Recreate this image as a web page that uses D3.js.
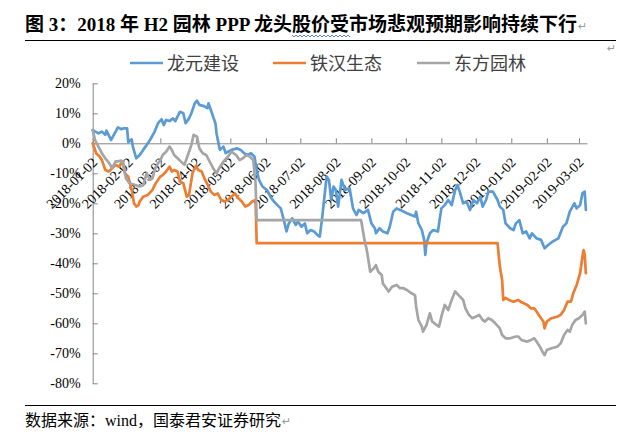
<!DOCTYPE html>
<html><head><meta charset="utf-8">
<script src="https://cdn.jsdelivr.net/npm/d3@7"></script>
<style>body{margin:0;background:#fff;overflow:hidden}</style>
</head><body><svg id="c" width="642" height="436"></svg>
<script>
const titleText = "图 3：2018 年 H2 园林 PPP 龙头股价受市场悲观预期影响持续下行";
const sourceText = "数据来源：wind，国泰君安证券研究";
const seriesNames = ["龙元建设", "铁汉生态", "东方园林"];
const seriesColors = ["#5B9BD5", "#ED7D31", "#A5A5A5"];
const yTickValues = [20, 10, 0, -10, -20, -30, -40, -50, -60, -70, -80];
const xTickLabels = ["2018-01-02","2018-02-02","2018-03-02","2018-04-02","2018-05-02","2018-06-02","2018-07-02","2018-08-02","2018-09-02","2018-10-02","2018-11-02","2018-12-02","2019-01-02","2019-02-02","2019-03-02"];
const xDomain = ["2018-01-02", "2019-03-09"];

const lyDates = ["2018-01-02","2018-01-07","2018-01-10","2018-01-13","2018-01-14","2018-01-18","2018-01-22","2018-01-24","2018-01-27","2018-01-29","2018-02-01","2018-02-02","2018-02-05","2018-02-06","2018-02-09","2018-02-12","2018-02-15","2018-02-18","2018-02-21","2018-02-25","2018-02-28","2018-03-03","2018-03-05","2018-03-07","2018-03-10","2018-03-13","2018-03-15","2018-03-19","2018-03-22","2018-03-24","2018-03-27","2018-03-29","2018-04-01","2018-04-03","2018-04-05","2018-04-09","2018-04-12","2018-04-13","2018-04-15","2018-04-17","2018-04-19","2018-04-20","2018-04-22","2018-04-23","2018-04-26","2018-04-28","2018-04-30","2018-05-03","2018-05-08","2018-05-11","2018-05-14","2018-05-17","2018-05-20","2018-05-23","2018-05-25","2018-05-27","2018-05-30","2018-06-03","2018-06-06","2018-06-09","2018-06-12","2018-06-15","2018-06-18","2018-06-20","2018-06-22","2018-06-25","2018-06-28","2018-06-30","2018-07-03","2018-07-06","2018-07-08","2018-07-11","2018-07-14","2018-07-17","2018-07-19","2018-07-21","2018-07-23","2018-07-25","2018-07-27","2018-07-29","2018-07-31","2018-08-02","2018-08-04","2018-08-07","2018-08-10","2018-08-14","2018-08-17","2018-08-20","2018-08-22","2018-08-26","2018-08-30","2018-09-02","2018-09-05","2018-09-06","2018-09-09","2018-09-12","2018-09-16","2018-09-18","2018-09-21","2018-09-24","2018-09-27","2018-10-03","2018-10-10","2018-10-11","2018-10-13","2018-10-16","2018-10-18","2018-10-19","2018-10-20","2018-10-23","2018-10-26","2018-10-30","2018-11-02","2018-11-05","2018-11-08","2018-11-11","2018-11-14","2018-11-16","2018-11-18","2018-11-21","2018-11-24","2018-11-27","2018-11-30","2018-12-03","2018-12-06","2018-12-08","2018-12-11","2018-12-13","2018-12-17","2018-12-21","2018-12-23","2018-12-26","2018-12-28","2019-01-01","2019-01-04","2019-01-06","2019-01-09","2019-01-12","2019-01-15","2019-01-18","2019-01-20","2019-01-24","2019-01-28","2019-01-31","2019-02-03","2019-02-07","2019-02-12","2019-02-16","2019-02-19","2019-02-22","2019-02-26","2019-02-28","2019-03-03","2019-03-05","2019-03-07","2019-03-08"];
const lyValues = [4.4,3.3,3.9,2.8,4.2,1.1,3.9,5.3,4.7,5.0,5.0,0.5,1.3,-1.1,-5.0,-3.9,-2.2,-0.6,1.1,3.9,6.7,8.0,6.1,7.8,7.4,8.3,7.4,10.5,10.0,6.7,8.3,10.0,13.3,14.2,12.8,12.4,11.7,13.3,11.1,8.9,6.7,3.3,-0.6,-2.2,-1.1,-3.3,-2.8,-2.2,-1.7,-2.2,-3.3,-3.9,-3.3,-4.4,-8.9,-12.2,-14.4,-15.6,-17.8,-19.4,-20.6,-21.7,-26.1,-29.4,-26.7,-25.0,-27.2,-26.1,-27.8,-26.7,-30.0,-28.9,-29.4,-30.6,-31.1,-25.0,-18.0,-11.1,-12.2,-18.9,-14.4,-15.6,-21.1,-12.2,-15.6,-15.0,-21.7,-23.9,-22.2,-23.3,-22.2,-26.7,-28.3,-30.0,-28.3,-29.4,-30.0,-27.8,-22.8,-21.7,-22.2,-23.3,-24.4,-22.8,-26.7,-28.9,-32.2,-37.2,-33.3,-30.0,-28.9,-29.4,-21.7,-20.6,-18.9,-20.6,-15.6,-13.9,-16.1,-20.0,-19.4,-22.2,-18.9,-20.0,-17.8,-21.1,-18.9,-16.1,-16.1,-18.9,-21.1,-22.2,-26.7,-28.3,-28.9,-26.7,-25.6,-30.0,-29.4,-31.7,-30.0,-31.7,-32.2,-35.0,-33.9,-32.8,-31.7,-27.8,-26.7,-22.8,-20.0,-21.7,-20.6,-16.7,-16.1,-22.2];

const thDates = ["2018-01-02","2018-01-05","2018-01-08","2018-01-10","2018-01-11","2018-01-13","2018-01-16","2018-01-19","2018-01-22","2018-01-25","2018-01-28","2018-01-30","2018-02-02","2018-02-05","2018-02-07","2018-02-09","2018-02-11","2018-02-12","2018-02-15","2018-02-19","2018-02-23","2018-02-26","2018-03-02","2018-03-04","2018-03-07","2018-03-10","2018-03-12","2018-03-14","2018-03-17","2018-03-19","2018-03-22","2018-03-25","2018-03-27","2018-03-30","2018-04-02","2018-04-04","2018-04-07","2018-04-10","2018-04-13","2018-04-15","2018-04-18","2018-04-21","2018-04-24","2018-04-27","2018-04-30","2018-05-03","2018-05-06","2018-05-09","2018-05-12","2018-05-15","2018-05-18","2018-05-21","2018-05-24","2018-05-25","2018-12-21","2018-12-23","2018-12-25","2018-12-26","2018-12-28","2018-12-31","2019-01-04","2019-01-08","2019-01-11","2019-01-16","2019-01-19","2019-01-22","2019-01-24","2019-01-27","2019-01-30","2019-01-31","2019-02-02","2019-02-06","2019-02-11","2019-02-14","2019-02-17","2019-02-20","2019-02-23","2019-02-25","2019-02-28","2019-03-03","2019-03-05","2019-03-06","2019-03-07","2019-03-08"];
const thValues = [0,-3.3,-4.4,-5.6,-6.7,-8.9,-9.4,-8.3,-7.2,-7.8,-6.1,-10.0,-11.1,-15.6,-20.0,-21.1,-20.6,-19.4,-17.8,-17.2,-15.6,-13.3,-11.1,-10.6,-9.4,-7.8,-9.4,-8.9,-9.4,-12.8,-13.3,-17.8,-17.2,-10.0,-7.5,-8.9,-9.4,-12.2,-14.4,-16.1,-17.2,-16.7,-18.9,-19.4,-18.9,-17.8,-16.7,-18.3,-19.4,-21.1,-20.6,-19.4,-18.9,-33.3,-33.3,-41.1,-45.6,-52.2,-51.5,-52.2,-52.8,-52.2,-53.0,-53.9,-55.0,-55.0,-56.1,-57.8,-59.4,-61.7,-59.4,-58.3,-57.8,-57.2,-55.6,-52.8,-52.8,-50.0,-47.2,-43.3,-37.8,-35.6,-37.2,-43.3];

const dfDates = ["2018-01-02","2018-01-04","2018-01-07","2018-01-10","2018-01-13","2018-01-16","2018-01-19","2018-01-22","2018-01-24","2018-01-27","2018-01-29","2018-01-31","2018-02-03","2018-02-08","2018-02-12","2018-02-15","2018-02-18","2018-02-21","2018-02-23","2018-02-26","2018-03-02","2018-03-04","2018-03-07","2018-03-10","2018-03-12","2018-03-14","2018-03-17","2018-03-20","2018-03-23","2018-03-26","2018-03-29","2018-03-31","2018-04-03","2018-04-05","2018-04-08","2018-04-11","2018-04-14","2018-04-17","2018-04-20","2018-04-23","2018-04-26","2018-04-30","2018-05-03","2018-05-07","2018-05-10","2018-05-13","2018-05-16","2018-05-19","2018-05-22","2018-05-24","2018-05-25","2018-08-24","2018-08-27","2018-08-29","2018-09-01","2018-09-04","2018-09-06","2018-09-08","2018-09-11","2018-09-12","2018-09-15","2018-09-17","2018-09-20","2018-09-24","2018-09-27","2018-09-30","2018-10-03","2018-10-07","2018-10-10","2018-10-11","2018-10-13","2018-10-16","2018-10-17","2018-10-20","2018-10-23","2018-10-25","2018-10-29","2018-10-31","2018-11-02","2018-11-05","2018-11-08","2018-11-11","2018-11-14","2018-11-17","2018-11-21","2018-11-23","2018-11-26","2018-11-29","2018-12-02","2018-12-05","2018-12-08","2018-12-10","2018-12-13","2018-12-16","2018-12-19","2018-12-23","2018-12-25","2018-12-28","2019-01-01","2019-01-06","2019-01-08","2019-01-11","2019-01-16","2019-01-19","2019-01-22","2019-01-24","2019-01-27","2019-01-29","2019-01-31","2019-02-02","2019-02-06","2019-02-11","2019-02-14","2019-02-17","2019-02-20","2019-02-22","2019-02-24","2019-02-27","2019-03-02","2019-03-05","2019-03-07","2019-03-08"];
const dfValues = [4.4,1.1,-1.1,-3.3,-5.0,-6.4,-8.3,-6.0,-6.0,-5.8,-7.2,-11.7,-13.3,-13.9,-14.4,-14.0,-10.0,-12.2,-11.7,-7.8,-5.6,-3.9,-2.8,-1.1,-2.2,-3.9,-5.0,-6.1,-7.2,-3.9,-0.6,2.8,2.2,-1.7,-3.3,-3.9,-6.1,-8.3,-10.0,-7.8,-6.1,-4.4,-2.8,-3.9,-5.6,-5.0,-3.9,-4.4,-5.6,-13.3,-25.6,-25.6,-32.2,-35.6,-42.8,-41.7,-40.6,-42.8,-43.9,-46.7,-48.3,-49.4,-47.8,-47.2,-48.3,-48.3,-48.9,-50.0,-50.6,-54.4,-58.9,-61.1,-62.8,-60.6,-56.7,-59.4,-60.6,-61.1,-57.8,-53.9,-55.6,-52.2,-49.4,-50.6,-52.2,-55.0,-57.2,-58.3,-57.8,-57.2,-58.9,-59.4,-58.3,-58.9,-60.0,-61.7,-63.9,-65.0,-65.0,-64.4,-64.4,-65.6,-66.1,-65.6,-65.0,-66.1,-67.8,-69.4,-70.6,-68.9,-68.3,-67.8,-66.7,-63.9,-62.2,-62.8,-60.6,-58.9,-58.3,-57.2,-56.1,-60.0];

const parse = d3.timeParse("%Y-%m-%d");
const series = [
  {name: seriesNames[0], color: seriesColors[0], pts: lyDates.map((d, i) => ({date: parse(d), v: lyValues[i]}))},
  {name: seriesNames[1], color: seriesColors[1], pts: thDates.map((d, i) => ({date: parse(d), v: thValues[i]}))},
  {name: seriesNames[2], color: seriesColors[2], pts: dfDates.map((d, i) => ({date: parse(d), v: dfValues[i]}))}
];

const svg = d3.select("#c");
const serif = "'Liberation Serif','Times New Roman','Noto Sans CJK SC',serif";
const cjk = "'Liberation Serif','Noto Sans CJK SC',sans-serif";

// title
const title = svg.append("text").attr("x", 25).attr("y", 31)
  .attr("font-family", cjk).attr("font-weight", "bold").attr("font-size", 19)
  .attr("fill", "#000").text(titleText);
svg.append("line").attr("x1", 25).attr("x2", 616).attr("y1", 40.5).attr("y2", 40.5)
  .attr("stroke", "#000").attr("stroke-width", 1);
// wavy underline under 股价受
const tn = title.node();
const i0 = titleText.indexOf("股"), i1 = titleText.indexOf("受");
const wx0 = tn.getStartPositionOfChar(i0).x, wx1 = tn.getEndPositionOfChar(i1).x;
let wp = "M" + wx0 + ",35";
for (let xx = wx0, k = 0; xx < wx1; xx += 2, k++) wp += "L" + (xx + 2) + "," + (k % 2 ? 35 : 37);
svg.append("path").attr("d", wp).attr("fill", "none").attr("stroke", "#4a6fd8").attr("stroke-width", 0.9);
const tEnd = tn.getEndPositionOfChar(titleText.length - 1).x;
svg.append("text").attr("x", tEnd + 1).attr("y", 30).attr("font-size", 11)
  .attr("font-family", "DejaVu Sans").attr("fill", "#999").text("↵");
svg.append("text").attr("x", 607).attr("y", 52).attr("font-size", 11)
  .attr("font-family", "DejaVu Sans").attr("fill", "#999").text("↵");

// scales
const x = d3.scaleTime().domain(xDomain.map(parse)).range([92.7, 587]);
const y = d3.scaleLinear().domain([-80, 20]).range([383.3, 83.3]);

// y axis
const gy = svg.append("g").attr("transform", "translate(92.7,0)")
  .call(d3.axisLeft(y).tickValues(yTickValues).tickSizeInner(-5).tickSizeOuter(0).tickPadding(12).tickFormat(d => d + "%"));
gy.selectAll("path,line").attr("stroke", "#868686");
gy.selectAll("text").attr("font-family", serif).attr("font-size", 14).attr("fill", "#000");

// x axis at 0
const gx = svg.append("g").attr("transform", `translate(0,${y(0)})`)
  .call(d3.axisBottom(x).tickValues(xTickLabels.map(parse)).tickSizeInner(-5).tickSizeOuter(0).tickFormat(d3.timeFormat("%Y-%m-%d")));
gx.selectAll("path,line").attr("stroke", "#868686");
gx.selectAll("text").attr("font-family", serif).attr("font-size", 14).attr("fill", "#000")
  .attr("text-anchor", "end").attr("y", 0).attr("dy", 0)
  .attr("transform", "translate(5,20) rotate(-45)");

// lines
const line = d3.line().x(d => x(d.date)).y(d => y(d.v));
svg.append("g").selectAll("path").data(series).join("path")
  .attr("d", d => line(d.pts)).attr("fill", "none")
  .attr("stroke", d => d.color).attr("stroke-width", 2.7)
  .attr("stroke-linejoin", "round").attr("stroke-linecap", "round");

// legend
const legX = [130, 273, 417];
const lg = svg.append("g").selectAll("g").data(series).join("g")
  .attr("transform", (d, i) => `translate(${legX[i]},63)`);
lg.append("line").attr("x1", 0).attr("x2", 33).attr("stroke", d => d.color).attr("stroke-width", 2.7);
lg.append("text").attr("x", 37).attr("y", 6.5).attr("font-family", "'Noto Sans CJK SC',sans-serif")
  .attr("font-size", 18).attr("fill", "#404040").text(d => d.name);

// footer
svg.append("line").attr("x1", 25).attr("x2", 616).attr("y1", 405.5).attr("y2", 405.5)
  .attr("stroke", "#000").attr("stroke-width", 1);
const src = svg.append("text").attr("x", 25).attr("y", 426).attr("font-family", cjk)
  .attr("font-size", 16).attr("fill", "#000").text(sourceText);
const sEnd = src.node().getEndPositionOfChar(sourceText.length - 1).x;
svg.append("text").attr("x", sEnd + 1).attr("y", 425).attr("font-size", 11)
  .attr("font-family", "DejaVu Sans").attr("fill", "#999").text("↵");
</script></body></html>
